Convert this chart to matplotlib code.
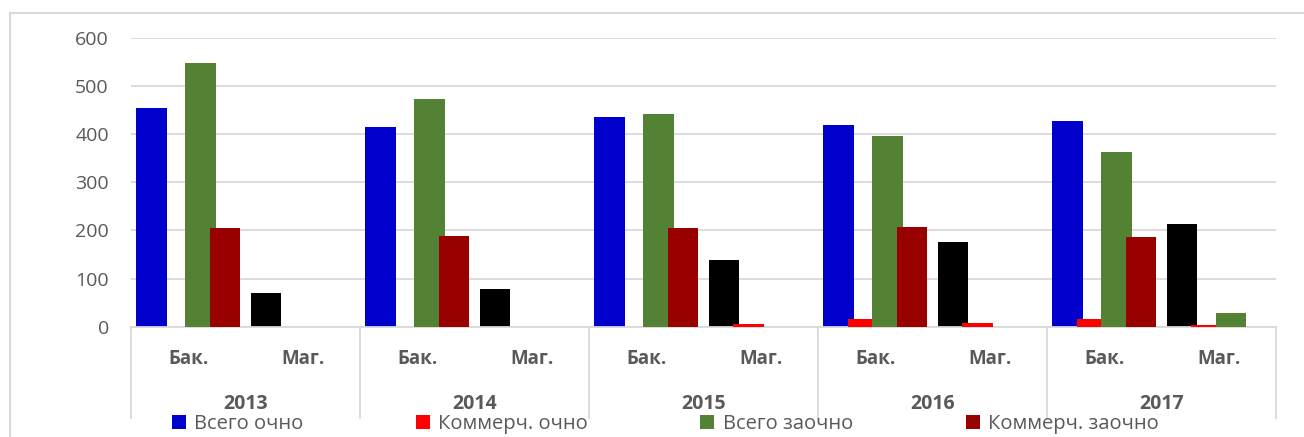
import matplotlib
matplotlib.use("Agg")
import matplotlib.pyplot as plt
import numpy as np
from matplotlib.patches import Rectangle, Patch
import matplotlib.transforms as mtransforms

plt.rcParams['font.family'] = ['Open Sans', 'DejaVu Sans']

years = ["2013", "2014", "2015", "2016", "2017"]
levels = ["Бак.", "Маг."]
series_names = ["Всего очно", "Коммерч. очно", "Всего заочно", "Коммерч. заочно"]
# values per category: 2013 Бак., 2013 Маг., 2014 Бак., ...
vsego_ochno = [455, 69, 415, 78, 435, 138, 419, 176, 427, 213]
kommerch_ochno = [0, 0, 0, 0, 0, 5, 15, 8, 15, 4]
vsego_zaochno = [547, 0, 472, 0, 442, 0, 395, 0, 362, 29]
kommerch_zaochno = [205, 0, 189, 0, 205, 0, 208, 0, 187, 0]
series_values = [vsego_ochno, kommerch_ochno, vsego_zaochno, kommerch_zaochno]
series_colors = ["#0000CC", "#FF0000", "#548235", "#990000"]
mag_ochno_color = "#000000"

W, H = 1304, 437
fig = plt.figure(figsize=(W / 100, H / 100), dpi=100)

# outer chart border
fig.patches.append(Rectangle((10 / W, -0.2), 1.2, 1.2 - 13 / H, transform=fig.transFigure,
                             fill=False, edgecolor="#d9d9d9", linewidth=1.5))

ax = fig.add_axes([131 / W, 1 - 326.7 / H, (1276 - 131) / W, (326.7 - 37.7) / H])

n_cat = len(years) * len(levels)
x = np.arange(n_cat)
step = 0.214
width = 0.27
offsets = [-1.5 * step, -0.5 * step, 0.5 * step, 1.5 * step]

for i, (vals, col) in enumerate(zip(series_values, series_colors)):
    colors = []
    for j in range(n_cat):
        if i == 0 and j % 2 == 1:
            colors.append(mag_ochno_color)
        else:
            colors.append(col)
    ax.bar(x + offsets[i], vals, width=width, color=colors, linewidth=0, zorder=2 + i)

ax.set_xlim(-0.5, n_cat - 0.5)
ax.set_ylim(0, 600)
ax.set_yticks(np.arange(0, 601, 100))
ax.yaxis.grid(True, color="#d9d9d9", linewidth=1.3)
ax.set_axisbelow(True)
for s in ["top", "right", "left"]:
    ax.spines[s].set_visible(False)
ax.spines["bottom"].set_color("#d9d9d9")
ax.spines["bottom"].set_linewidth(1.3)
ax.tick_params(axis="y", length=0, pad=16, labelsize=14, labelcolor="#595959")
ax.set_xticks([])

trans = mtransforms.blended_transform_factory(ax.transData, ax.transAxes)
sep_bottom = -(418 - 326.7) / (326.7 - 37.7)
for k in range(len(years) + 1):
    xb = -0.5 + 2 * k
    ax.plot([xb, xb], [0, sep_bottom], transform=trans, color="#d9d9d9", linewidth=1.3, clip_on=False)

lvl_y = -(359 - 326.7) / (326.7 - 37.7)
yr_y = -(404 - 326.7) / (326.7 - 37.7)
for j in range(n_cat):
    ax.text(x[j], lvl_y, levels[j % 2], transform=trans, ha="center", va="center",
            fontsize=13.5, fontweight="bold", color="#595959")
for k, yr in enumerate(years):
    ax.text(2 * k + 0.5, yr_y, yr, transform=trans, ha="center", va="center",
            fontsize=14, fontweight="bold", color="#595959")

handles = [Patch(facecolor=c, edgecolor="none") for c in series_colors]
leg = fig.legend(handles, series_names, loc="center", bbox_to_anchor=(665 / W, 1 - 424 / H),
                 ncol=4, frameon=False, fontsize=14.5, labelcolor="#595959",
                 handlelength=0.7, handleheight=0.7, handletextpad=0.4, columnspacing=5.6,
                 borderpad=0, borderaxespad=0)

fig.savefig("out.png", dpi=100)
